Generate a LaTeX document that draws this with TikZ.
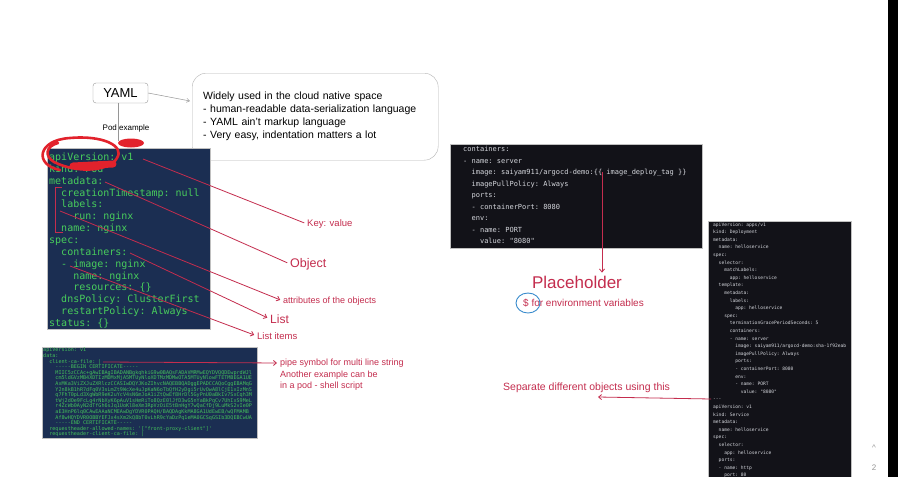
\documentclass[tikz,border=0pt]{standalone}
\usepackage{fontspec}
\setmainfont{Liberation Sans}
\setmonofont{DejaVu Sans Mono}
\usepackage{tikz}
\usetikzlibrary{arrows.meta,positioning}
\definecolor{NoteRed}   {RGB}{196, 45, 78}
\definecolor{InkRed}    {RGB}{226, 34, 44}
\definecolor{PodBlue}   {RGB}{ 27, 46, 82}
\definecolor{PodGreen}  {RGB}{ 72,205, 92}
\definecolor{CodeBlack} {RGB}{ 18, 18, 24}
\definecolor{CodeGray}  {RGB}{212,214,220}
\definecolor{PenBlue}   {RGB}{ 58,140,205}
\definecolor{FrameGray} {RGB}{150,150,150}
\newcommand\idt[1]{\hspace*{#1\fontcharwd\font`x}}
\tikzset{
  tagbox/.style={
    draw=FrameGray, rounded corners=3pt, fill=white,
    minimum width=55pt, minimum height=20pt, inner sep=0pt,
    font=\fontsize{13}{15}\selectfont
  },
  infobox/.style={
    draw=FrameGray!70, rounded corners=14pt, fill=white,
    text width=224pt, align=left, inner xsep=11pt,
    minimum height=87pt, font=\fontsize{10.5}{13}\selectfont
  },
  caption/.style={inner sep=0pt, font=\fontsize{8}{9}\selectfont},
  codebox/.style={draw=FrameGray!60, line width=0.4pt, inner sep=0pt},
  podcode/.style={anchor=base west, inner sep=0pt, text=PodGreen,
                  font=\ttfamily\fontsize{10}{12}\selectfont},
  cmcode/.style ={anchor=base west, inner sep=0pt, text=PodGreen!92!PodBlue,
                  font=\ttfamily\fontsize{5.1}{6}\selectfont},
  snipcode/.style={anchor=base west, inner sep=0pt, text=CodeGray,
                  font=\ttfamily\fontsize{7}{8}\selectfont},
  mancode/.style={anchor=base west, inner sep=0pt, text=CodeGray,
                  font=\ttfamily\fontsize{4.6}{5.5}\selectfont},
  note/.style={anchor=west, inner sep=0pt, text=NoteRed,
               font=\fontsize{9.5}{11}\selectfont},
  pointer/.style={draw=NoteRed, line width=0.8pt, shorten >=3pt},
  pointto/.style={pointer, -{Straight Barb[length=3pt,width=5pt]}},
  scribble/.style={draw=InkRed, line width=2.6pt, line cap=round, line join=round},
  thinarrow/.style={draw=FrameGray, line width=0.5pt,
                    -{Straight Barb[length=3pt,width=4pt]}},
  ctrl/.style={inner sep=0pt, text=FrameGray, font=\fontsize{8}{9}\selectfont}
}

\begin{document}
\begin{tikzpicture}[x=1pt,y=-1pt]
  \useasboundingbox (0,0) rectangle (898,477);
  \fill[white] (0,0) rectangle (898,477);
  \fill[black] (888,0) rectangle (898,477);

  % intro
  \node[tagbox] (yaml) at (120.5,93) {YAML};
  \node[infobox, anchor=north west] (info) at (192,73)
       {Widely used in the cloud native space\\
        - human-readable data-serialization language\\
        - YAML ain't markup language\\
        - Very easy, indentation matters a lot};
  \coordinate (infoin) at (190,101);
  \draw[thinarrow] (yaml.east) -- (infoin);
  \coordinate (podtop) at (118.5,141);
  \draw[FrameGray, line width=0.5pt] (yaml.south -| podtop) -- (podtop);
  \node[caption, anchor=west] (podex) at (102.5,128) {Pod example};

  % pod manifest
  \node[codebox, fill=PodBlue, minimum width=163pt, minimum height=181pt,
        anchor=north west] (pod) at (47,148) {};
  \foreach \txt [count=\i] in {
      apiVersion: v1,
      kind: Pod,
      metadata:,
      \idt{2}creationTimestamp: null,
      \idt{2}labels:,
      \idt{4}run: nginx,
      \idt{2}name: nginx,
      spec:,
      \idt{2}containers:,
      \idt{2}- image: nginx,
      \idt{4}name: nginx,
      \idt{4}resources: \{\},
      \idt{2}dnsPolicy: ClusterFirst,
      \idt{2}restartPolicy: Always,
      status: \{\}}
    \node[podcode] (pod-\i) at (49,{160.5+11.86*(\i-1)}) {\txt};

  % pen marks on the pod manifest
  \draw[scribble] (60,170) .. controls (34,165) and (37,140) .. (70,138)
                  .. controls (103,135) and (125,146) .. (117,158)
                  .. controls (110,171) and (78,174) .. (54,162)
                  .. controls (44,156) and (46,146) .. (58,143);
  \draw[scribble, line width=7pt] (73,166) -- (113,164);
  \fill[InkRed] (131,143) ellipse [x radius=13, y radius=4.5];
  \draw[NoteRed, line width=0.9pt] (62,187) -- (55,187) -- (55,232) -- (63,232);

  % labels on the pod manifest
  \coordinate (kvfrom)   at (143,159);
  \coordinate (objfrom)  at (105,182);
  \coordinate (attrfrom) at (60,211);
  \coordinate (listfrom) at (130,253);
  \coordinate (itemfrom) at (70,266);
  \node[note] (keyval) at (307,224) {Key: value};
  \node[note, font=\fontsize{12.5}{14}\selectfont] (object) at (290,264) {Object};
  \node[note, font=\fontsize{9}{11}\selectfont] (attrib) at (283,301) {attributes of the objects};
  \node[note, font=\fontsize{12}{14}\selectfont] (listlbl) at (270,319) {List};
  \node[note] (listitem) at (257,336) {List items};
  \draw[pointer] (kvfrom) -- (keyval.west);
  \draw[pointer] (objfrom) -- (object.west);
  \draw[pointto] (attrfrom) -- (attrib.west);
  \draw[pointto] (listfrom) -- (listlbl.west);
  \draw[pointto] (itemfrom) -- (listitem.west);

  % configmap with a multi line string
  \node[codebox, fill=PodBlue, minimum width=215pt, minimum height=91pt,
        anchor=north west] (cm) at (42,347) {};
  \foreach \txt [count=\i] in {
      apiVersion: v1,
      data:,
      \idt{2}client-ca-file: |,
      \idt{4}-----BEGIN CERTIFICATE-----,
      \idt{4}MIIC5zCCAc+gAwIBAgIBADANBgkqhkiG9w0BAQsFADAVMRMwEQYDVQQDEwprdWJl,
      \idt{4}cm5ldGVzMB4XDTIzMDMxMjA5MTUyNloXDTMzMDMwOTA5MTUyNlowFTETMBEGA1UE,
      \idt{4}AxMKa3ViZXJuZXRlczCCASIwDQYJKoZIhvcNAQEBBQADggEPADCCAQoCggEBAMqG,
      \idt{4}Y2n8kB1hR7dFq0V3sLmZt9WcXe4uJpKaN6oTbQfH2yDgi5rUvOwA8lCjE1xIzMnS,
      \idt{4}q7FhT0pLd3XgWbR9eK2uYcV4sN6mJoA1iZtQwEf8HrDl5GyPnU0aBkIv7SxCqh3M,
      \idt{4}tWj2dOe9FcLg4rNbXyK6pAuV1sHmRiTo8QzE0lJfD3wG5nYaBkPqCv7UhIxS9MeL,
      \idt{4}r4ZcWb0AyN2dTfGh6sJq1UoKl8eXm3RpVzOiE5tBnHgY7wQaCfDj9LuMkS2vIe0P,
      \idt{4}aE3HnP6lq0CAwEAAaNCMEAwDgYDVR0PAQH/BAQDAgKkMA8GA1UdEwEB/wQFMAMB,
      \idt{4}Af8wHQYDVR0OBBYEFJx4sXm2kQ8bT0vLhR9cYaDzPq1eMA0GCSqGSIb3DQEBCwUA,
      \idt{4}-----END CERTIFICATE-----,
      \idt{2}requestheader-allowed-names: '["front-proxy-client"]',
      \idt{2}requestheader-client-ca-file: |}
    \node[cmcode] (cm-\i) at (43,{351.8+5.6*(\i-1)}) {\txt};

  \coordinate (pipefrom) at (103,362);
  \node[note, font=\fontsize{9}{11}\selectfont] (pipe) at (280,363)
       {pipe symbol for multi line string};
  \node[note, font=\fontsize{9}{11}\selectfont, below=3pt of pipe.south west,
        anchor=north west] (another) {Another example can be};
  \node[note, font=\fontsize{9}{11}\selectfont, below=3pt of another.south west,
        anchor=north west] (shell) {in a pod - shell script};
  \draw[pointto] (pipefrom) -- (pipe.west);

  % templated container spec
  \node[codebox, fill=CodeBlack, minimum width=252pt, minimum height=104pt,
        anchor=north west] (snip) at (450,144) {};
  \foreach \txt [count=\i] in {
      containers:,
      - name: server,
      \idt{2}image: saiyam911/argocd-demo:\{\{ image\_deploy\_tag \}\},
      \idt{2}imagePullPolicy: Always,
      \idt{2}ports:,
      \idt{2}- containerPort: 8080,
      \idt{2}env:,
      \idt{2}- name: PORT,
      \idt{4}value: "8080"}
    \node[snipcode] (snip-\i) at (463,{151.5+11.5*(\i-1)}) {\txt};

  \coordinate (tagfrom) at (602,172);
  \node[note, anchor=center, font=\fontsize{17}{19}\selectfont] (placeholder)
       at (577,282) {Placeholder};
  \node[note, font=\fontsize{10}{12}\selectfont] (envvar) at (523,303)
       {\$ for environment variables};
  \draw[pointto] (tagfrom) -- (tagfrom |- placeholder.north);
  \draw[PenBlue, line width=0.9pt] ([xshift=5pt]envvar.west) ellipse [x radius=12, y radius=10];

  % full manifest with two objects
  \node[codebox, fill=CodeBlack, minimum width=143pt, minimum height=262pt,
        anchor=north west] (manifest) at (708,221) {};
  \foreach \txt [count=\i] in {
      apiVersion: apps/v1,
      kind: Deployment,
      metadata:,
      \idt{2}name: helloservice,
      spec:,
      \idt{2}selector:,
      \idt{4}matchLabels:,
      \idt{6}app: helloservice,
      \idt{2}template:,
      \idt{4}metadata:,
      \idt{6}labels:,
      \idt{8}app: helloservice,
      \idt{4}spec:,
      \idt{6}terminationGracePeriodSeconds: 5,
      \idt{6}containers:,
      \idt{6}- name: server,
      \idt{8}image: saiyam911/argocd-demo:sha-1f92eab,
      \idt{8}imagePullPolicy: Always,
      \idt{8}ports:,
      \idt{8}- containerPort: 8080,
      \idt{8}env:,
      \idt{8}- name: PORT,
      \idt{10}value: "8080",
      ---,
      apiVersion: v1,
      kind: Service,
      metadata:,
      \idt{2}name: helloservice,
      spec:,
      \idt{2}selector:,
      \idt{4}app: helloservice,
      \idt{2}ports:,
      \idt{2}- name: http,
      \idt{4}port: 80}
    \node[mancode] (man-\i) at (713,{226+7.6*(\i-1)}) {\txt};

  \node[note, font=\fontsize{10.5}{12}\selectfont] (separate) at (503,388)
       {Separate different objects using this};
  \coordinate (sepfrom) at (711,399);
  \coordinate (septo)   at (598,397);
  \draw[pointto, shorten >=0pt] (sepfrom) -- (septo);

  % slide controls
  \node[ctrl] (up)   at (874,448) {\textasciicircum};
  \node[ctrl] (page) at (874,468) {2};
\end{tikzpicture}
\end{document}
